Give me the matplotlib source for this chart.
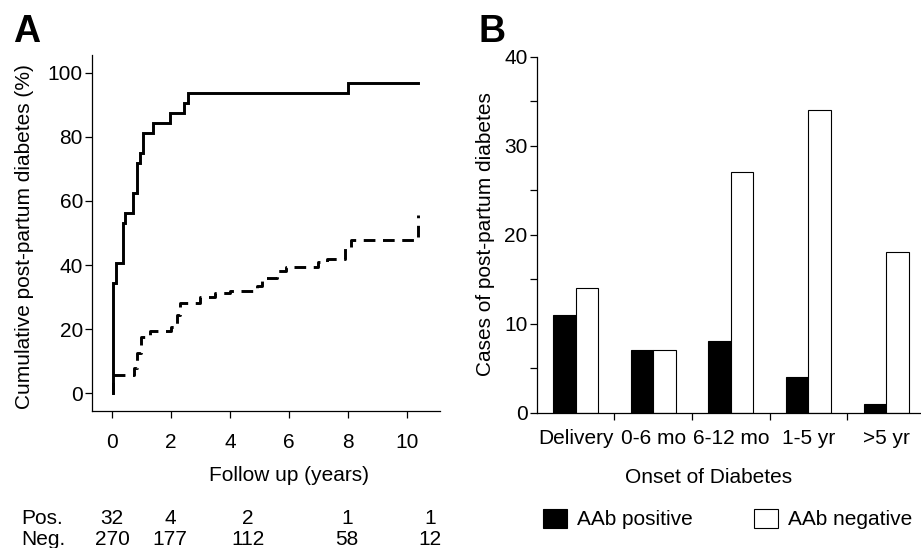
import matplotlib
matplotlib.use("Agg")
import matplotlib.pyplot as plt
import matplotlib.transforms as mtransforms
import numpy as np

plt.rcParams['font.family'] = ['Liberation Sans', 'DejaVu Sans']

# ---- Panel A data: cumulative post-partum diabetes (%) ----
pos_years = [0.04, 0.04, 0.14, 0.36, 0.44, 0.72, 0.84, 0.95, 1.04, 1.38, 1.97, 2.45, 2.56, 7.99, 10.36]
pos_cum = [0, 34.4, 40.6, 53.1, 56.25, 62.5, 71.9, 75.0, 81.25, 84.4, 87.5, 90.6, 93.75, 96.9, 96.9]

neg_years = [0.0, 0.05, 0.75, 0.85, 1.0, 1.3, 2.0, 2.2, 2.3, 3.0, 3.5, 4.0, 4.9, 5.1, 5.6, 5.9, 7.0, 7.3, 7.9, 8.1, 10.37]
neg_cum = [0, 5.6, 7.8, 12.5, 17.6, 19.3, 20.7, 24.5, 28.0, 30.0, 31.3, 32.0, 33.5, 35.8, 38.0, 39.5, 41.0, 41.8, 45.5, 47.8, 55.6]

risk_labels = ["Pos.", "Neg."]
risk_pos = [32, 4, 2, 1, 1]
risk_neg = [270, 177, 112, 58, 12]
risk_x = [0, 1.97, 4.61, 7.97, 10.78]

# ---- Panel B data ----
onset_categories = ["Delivery", "0-6 mo", "6-12 mo", "1-5 yr", ">5 yr"]
aab_positive = [11, 7, 8, 4, 1]
aab_negative = [14, 7, 27, 34, 18]

W, H = 921, 548
fig = plt.figure(figsize=(W / 100, H / 100), dpi=100)

def px_axes(left, top, right, bottom):
    return fig.add_axes([left / W, 1 - bottom / H, (right - left) / W, (bottom - top) / H])

FS = 15

# ---------------- Panel A ----------------
axA = px_axes(92, 55, 440, 411)
axA.plot(pos_years, pos_cum, drawstyle='steps-post', color='black', lw=2.1,
         solid_joinstyle='miter')
axA.plot(neg_years, neg_cum, drawstyle='steps-post', color='black', lw=2.1,
         linestyle=(0, (4, 2.6)))
axA.set_xlim(-0.678, 11.12)
axA.set_ylim(-5.6, 105.6)
axA.set_xticks([0, 2, 4, 6, 8, 10])
axA.set_yticks([0, 20, 40, 60, 80, 100])
for s in ['top', 'right']:
    axA.spines[s].set_visible(False)
for s in ['left', 'bottom']:
    axA.spines[s].set_linewidth(0.9)
axA.tick_params(axis='x', direction='out', length=5, width=0.9, pad=10.5, labelsize=FS)
axA.tick_params(axis='y', direction='out', length=5, width=0.9, pad=1.5, labelsize=FS)
axA.set_xlabel("Follow up (years)", fontsize=FS, va='center')
axA.xaxis.set_label_coords(0.566, -0.18)
axA.set_ylabel("Cumulative post-partum diabetes (%)", fontsize=FS, va='center', ha='center')
axA.yaxis.set_label_coords(-0.195, 0.49)

# number at risk table
trans = mtransforms.blended_transform_factory(axA.transData, fig.transFigure)
fig.text(21 / W, 1 - 524 / H, risk_labels[0], fontsize=FS, ha='left', va='baseline')
fig.text(21 / W, 1 - 545 / H, risk_labels[1], fontsize=FS, ha='left', va='baseline')
for xv, p, n in zip(risk_x, risk_pos, risk_neg):
    axA.text(xv, 1 - 524 / H, str(p), transform=trans, fontsize=FS, ha='center', va='baseline')
    axA.text(xv, 1 - 545 / H, str(n), transform=trans, fontsize=FS, ha='center', va='baseline')

fig.text(13 / W, 1 - 42 / H, "A", fontsize=27, fontweight='bold', ha='left', va='baseline')

# ---------------- Panel B ----------------
axB = px_axes(536.7, 56.7, 921, 412.7)
x = np.arange(len(onset_categories))
w = 0.29
b1 = axB.bar(x - w / 2, aab_positive, w, color='black', edgecolor='black', lw=0.8, label='AAb positive')
b2 = axB.bar(x + w / 2, aab_negative, w, color='white', edgecolor='black', lw=0.8, label='AAb negative')
axB.set_xlim(-0.5, 4.45)
axB.set_ylim(0, 40)
axB.set_yticks([0, 10, 20, 30, 40])
axB.set_yticks([5, 15, 25, 35], minor=True)
axB.set_xticks(x)
axB.set_xticklabels(onset_categories)
axB.set_xticks([0.5, 1.5, 2.5, 3.5], minor=True)
for s in ['top', 'right']:
    axB.spines[s].set_visible(False)
for s in ['left', 'bottom']:
    axB.spines[s].set_linewidth(0.9)
axB.tick_params(axis='x', which='major', length=0, pad=11.7, labelsize=FS)
axB.tick_params(axis='x', which='minor', direction='out', length=5, width=0.9)
axB.tick_params(axis='y', which='both', direction='out', length=5, width=0.9, pad=1.5, labelsize=FS)
axB.set_xlabel("Onset of Diabetes", fontsize=FS, va='center')
axB.xaxis.set_label_coords(0.446, -0.183)
axB.set_ylabel("Cases of post-partum diabetes", fontsize=FS, va='center', ha='center')
axB.yaxis.set_label_coords(-0.1345, 0.502)

fig.legend(handles=[b1, b2], labels=['AAb positive', 'AAb negative'],
           loc='center left', bbox_to_anchor=(543 / W, 1 - 519 / H), ncol=2,
           frameon=False, borderpad=0, borderaxespad=0, fontsize=FS,
           handlelength=1.15, handleheight=1.06, handletextpad=0.5, columnspacing=2.9)

fig.text(478 / W, 1 - 42 / H, "B", fontsize=27, fontweight='bold', ha='left', va='baseline')

fig.savefig("out.png", dpi=100)
